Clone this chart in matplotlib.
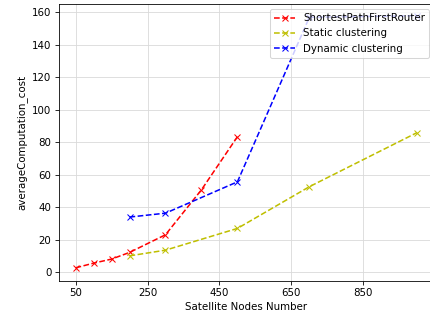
import matplotlib
matplotlib.use('Agg')
import matplotlib.pyplot as plt

# data
spf_nodes = [50, 100, 150, 200, 300, 400, 500]
spf_cost = [2.6, 5.5, 8.0, 12.1, 23.0, 50.7, 83.4]

static_nodes = [200, 300, 500, 700, 1000]
static_cost = [10.0, 13.5, 26.9, 52.6, 86.0]

dyn_nodes = [200, 300, 500, 700, 1000]
dyn_cost = [33.9, 36.3, 55.6, 157.0, 158.0]

xticks = [50, 250, 450, 650, 850]
yticks = [0, 20, 40, 60, 80, 100, 120, 140, 160]

DPI = 74
fig = plt.figure(figsize=(430 / DPI, 320 / DPI), dpi=DPI)
ax = fig.add_axes([58.5 / 430, 39 / 320, 1.0 - 58.5 / 430 + 0.01, (281 - 4) / 320])

ax.plot(spf_nodes, spf_cost, 'r--x', label='ShortestPathFirstRouter')
ax.plot(static_nodes, static_cost, 'y--x', label='Static clustering')
ax.plot(dyn_nodes, dyn_cost, 'b--x', label='Dynamic clustering')

ax.set_xticks(xticks)
ax.set_yticks(yticks)
ax.set_xlim(2.5, 1047.5)
ax.set_ylim(-5.5, 165.2)
ax.grid(True, color='#d9d9d9')
ax.set_axisbelow(True)
ax.set_xlabel('Satellite Nodes Number')
ax.set_ylabel('averageComputation_cost')
ax.legend(loc='upper right', borderaxespad=0.5)

fig.savefig('out.png', dpi=DPI)
